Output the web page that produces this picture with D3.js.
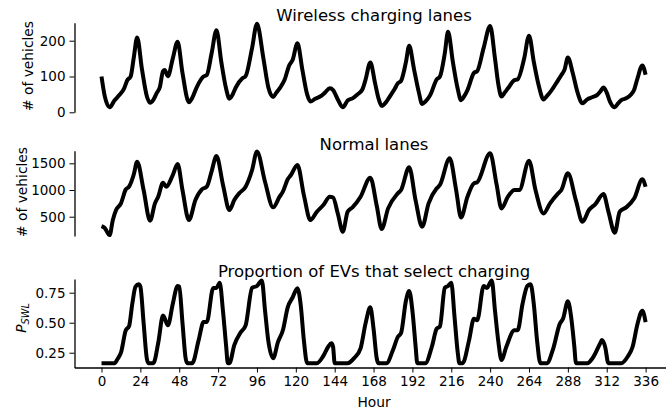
<!DOCTYPE html>
<html>
<head>
<meta charset="utf-8">
<script src="https://cdn.jsdelivr.net/npm/d3@7"></script>
<style>
  body { margin: 0; background: #fff; }
  text { font-family: "DejaVu Sans", sans-serif; fill: #000; }
</style>
</head>
<body>
<svg id="canvas" width="666" height="410"></svg>
<script>
// hour markers along the bottom axis
let hourTicks = [0, 24, 48, 72, 96, 120, 144, 168, 192, 216, 240, 264, 288, 312, 336]

// wireless charging lanes (# of vehicles)
let wirelessHours = [0, 2, 5, 8, 11, 14, 16, 18, 20, 22, 25, 28, 30,
    32, 34, 36, 38, 39, 41, 44, 47, 50, 54,
    56, 59, 63, 65, 68, 71, 74, 77, 79,
    81, 83, 87, 89, 93, 96, 100, 103, 106,
    108, 110, 113, 116, 118, 121, 124, 127, 129,
    132, 135, 138, 141, 143, 146, 149,
    152, 155, 158, 161, 163, 166, 169, 171, 173,
    176, 178, 181, 183, 185, 188, 190, 193, 196, 198,
    200, 203, 207, 209, 212, 214, 217, 220, 222,
    224, 226, 230, 232, 236, 240, 243, 245, 247,
    249, 251, 255, 257, 261, 264, 267, 270, 273,
    275, 278, 282, 284, 286, 288, 291, 294, 297,
    300, 303, 306, 308, 310, 312, 314, 317,
    319, 321, 324, 327, 329, 331, 334, 336]
let wirelessVehicles = [100, 45, 14, 33, 48, 67, 90, 100, 155, 209, 120, 45, 27,
    35, 53, 70, 115, 118, 101, 150, 197, 110, 28,
    40, 72, 100, 104, 165, 229, 140, 65, 38,
    50, 70, 95, 101, 180, 247, 150, 70, 43,
    55, 67, 90, 132, 146, 193, 120, 50, 30,
    38, 44, 55, 67, 62, 35, 14,
    33, 39, 50, 63, 90, 139, 80, 40, 18,
    30, 44, 65, 81, 88, 140, 186, 120, 55, 23,
    30, 48, 92, 100, 165, 225, 140, 65, 34,
    45, 62, 110, 115, 180, 241, 150, 80, 44,
    55, 67, 90, 92, 150, 214, 140, 75, 36,
    45, 62, 90, 104, 120, 153, 110, 55, 25,
    36, 42, 48, 58, 69, 55, 30, 14,
    25, 34, 39, 50, 64, 95, 131, 105]

// normal lanes (# of vehicles)
let normalHours = [0, 2, 5, 7, 9, 12, 15, 17, 20, 22, 26, 30,
    33, 35, 38, 40, 44, 47, 50, 54,
    58, 62, 65, 68, 71, 75, 79,
    82, 85, 89, 93, 96, 101, 106,
    110, 112, 115, 117, 121, 125, 129,
    133, 137, 141, 143, 146, 149,
    152, 155, 160, 166, 170, 173,
    177, 183, 185, 190, 194, 198,
    202, 207, 209, 215, 219, 222,
    226, 230, 232, 240, 244, 247,
    251, 255, 258, 264, 268, 273,
    277, 282, 284, 288, 293, 297,
    301, 305, 310, 313, 317,
    320, 324, 329, 334, 336]
let normalVehicles = [325, 290, 156, 437, 625, 750, 1012, 1062, 1300, 1530, 1000, 425,
    750, 875, 1137, 1062, 1280, 1487, 1000, 437,
    812, 1012, 1062, 1350, 1637, 1100, 625,
    812, 937, 1062, 1375, 1719, 1150, 675,
    875, 969, 1200, 1281, 1469, 900, 437,
    594, 719, 875, 860, 550, 219,
    594, 675, 875, 1231, 700, 269,
    656, 937, 1000, 1425, 800, 312,
    750, 1031, 1094, 1594, 1000, 487,
    875, 1125, 1144, 1687, 1100, 656,
    875, 1000, 1000, 1550, 1000, 562,
    750, 937, 1000, 1312, 800, 406,
    625, 737, 925, 600, 200,
    594, 675, 844, 1200, 1062]

// proportion of EVs that select charging (P_SWL)
let propHours = [0, 8, 10, 12, 15, 17, 19, 21, 23, 24, 26, 28, 29, 32,
    35, 38, 41, 44, 47, 48, 50, 52, 53, 56,
    60, 63, 65, 69, 71, 73, 75, 77, 78, 79,
    82, 86, 89, 93, 96, 99, 101, 103, 106,
    109, 112, 115, 118, 121, 123, 125, 127, 133,
    137, 140, 142, 143, 144, 152,
    156, 160, 163, 166, 168, 170, 171, 176,
    180, 183, 185, 188, 190, 192, 194, 195, 200,
    204, 207, 209, 212, 214, 216, 218, 220, 221, 223,
    227, 230, 232, 236, 238, 241, 243, 245, 247,
    250, 255, 257, 260, 263, 265, 267, 269, 271, 275,
    279, 283, 285, 288, 290, 292, 293, 300,
    303, 305, 308, 309, 311, 313, 321,
    325, 328, 331, 334, 336]
let propSelect = [0.163, 0.163, 0.2, 0.25, 0.437, 0.47, 0.656, 0.8, 0.82, 0.8, 0.5, 0.2, 0.163, 0.163,
    0.33, 0.56, 0.478, 0.656, 0.806, 0.8, 0.5, 0.2, 0.163, 0.163,
    0.355, 0.505, 0.505, 0.79, 0.79, 0.833, 0.6, 0.3, 0.163, 0.163,
    0.314, 0.42, 0.478, 0.79, 0.806, 0.852, 0.6, 0.35, 0.205,
    0.34, 0.437, 0.628, 0.71, 0.787, 0.65, 0.35, 0.163, 0.163,
    0.224, 0.3, 0.328, 0.3, 0.163, 0.163,
    0.205, 0.287, 0.49, 0.628, 0.45, 0.2, 0.163, 0.163,
    0.273, 0.382, 0.415, 0.683, 0.765, 0.6, 0.3, 0.163, 0.163,
    0.3, 0.45, 0.47, 0.79, 0.806, 0.833, 0.55, 0.25, 0.163, 0.163,
    0.355, 0.533, 0.52, 0.806, 0.79, 0.852, 0.6, 0.35, 0.19,
    0.3, 0.437, 0.437, 0.656, 0.806, 0.82, 0.65, 0.35, 0.163, 0.163,
    0.287, 0.49, 0.533, 0.678, 0.55, 0.3, 0.163, 0.163,
    0.2, 0.246, 0.33, 0.355, 0.3, 0.163, 0.163,
    0.219, 0.3, 0.49, 0.6, 0.505]

let svg = d3.select('#canvas')

let xScale = d3.scaleLinear().domain([-16.8, 352.8]).range([74.3, 672.8])

let panels = [
    {title: 'Wireless charging lanes', hours: wirelessHours, values: wirelessVehicles,
     domain: [0, 250], range: [112.3, 22.8], ticks: [0, 100, 200], fmt: d3.format('d'),
     titleY: 20.5, labelX: 33, labelY: 66},
    {title: 'Normal lanes', hours: normalHours, values: normalVehicles,
     domain: [139, 1736], range: [236, 150.7], ticks: [500, 1000, 1500], fmt: d3.format('d'),
     titleY: 150, labelX: 26.5, labelY: 192},
    {title: 'Proportion of EVs that select charging', hours: propHours, values: propSelect,
     domain: [0.127, 0.864], range: [367.5, 279], ticks: [0.25, 0.5, 0.75], fmt: d3.format('.2f'),
     titleY: 276.7, labelX: 26, labelY: 318}
]

panels.forEach((p, i) => {
    let yScale = d3.scaleLinear().domain(p.domain).range(p.range)

    let yAxis = svg.append('g')
        .attr('transform', 'translate(74.5,0)')
        .call(d3.axisLeft(yScale).tickValues(p.ticks).tickFormat(p.fmt).tickSize(5).tickSizeOuter(0).tickPadding(4))
    yAxis.selectAll('text').style('font-size', '13.5px').style('font-family', 'DejaVu Sans')
    yAxis.select('.domain').attr('stroke-width', 1.3)

    let line = d3.line()
        .x((d, k) => xScale(p.hours[k]))
        .y((d) => yScale(d))
        .curve(d3.curveMonotoneX)

    svg.append('path')
        .datum(p.values)
        .attr('fill', 'none')
        .attr('stroke', '#000')
        .attr('stroke-width', 4)
        .attr('stroke-linejoin', 'round')
        .attr('stroke-linecap', 'butt')
        .attr('d', line)

    svg.append('text')
        .attr('x', 374)
        .attr('y', p.titleY)
        .attr('text-anchor', 'middle')
        .style('font-size', '16.5px')
        .text(p.title)

    if (i < 2) {
        svg.append('text')
            .attr('transform', 'translate(' + p.labelX + ',' + p.labelY + ') rotate(-90)')
            .attr('text-anchor', 'middle')
            .style('font-size', '13.8px')
            .text('# of vehicles')
    } else {
        let lab = svg.append('text')
            .attr('transform', 'translate(' + p.labelX + ',' + p.labelY + ') rotate(-90)')
            .attr('text-anchor', 'middle')
            .style('font-size', '13.8px')
        lab.append('tspan').style('font-style', 'italic').text('P')
        lab.append('tspan').style('font-style', 'italic').style('font-size', '9.8px').attr('dy', 3).text('SWL')
    }
})

let xAxis = svg.append('g')
    .attr('transform', 'translate(0,367.5)')
    .call(d3.axisBottom(xScale).tickValues(hourTicks).tickFormat(d3.format('d')).tickSize(5).tickSizeOuter(0).tickPadding(4))
xAxis.selectAll('text').style('font-size', '13.5px').style('font-family', 'DejaVu Sans')
xAxis.select('.domain').attr('stroke-width', 1.3)

svg.append('text')
    .attr('x', 374)
    .attr('y', 406.5)
    .attr('text-anchor', 'middle')
    .style('font-size', '13.8px')
    .text('Hour')
</script>
</body>
</html>
